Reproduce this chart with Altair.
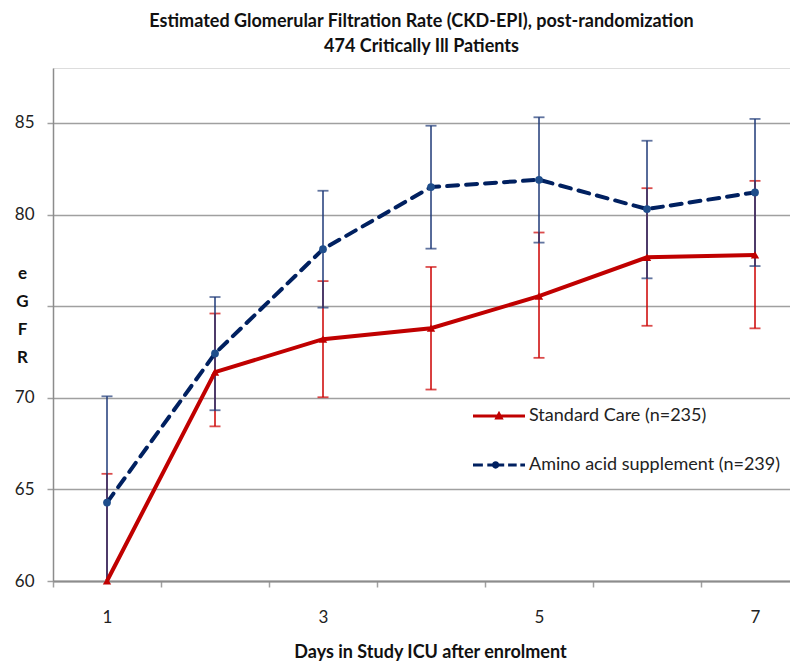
import altair as alt
import pandas as pd

# ---- data ----
days = [1, 2, 3, 4, 5, 6, 7]
series_names = ["Standard Care (n=235)", "Amino acid supplement (n=239)"]

sc_mean = [60.0, 71.4, 73.2, 73.8, 75.55, 77.67, 77.8]
sc_hi = [65.85, 74.6, 76.37, 77.14, 79.02, 81.44, 81.84]
sc_lo = [54.15, 68.44, 70.03, 70.45, 72.18, 73.93, 73.79]

aa_mean = [64.28, 72.42, 78.11, 81.5, 81.9, 80.3, 81.21]
aa_hi = [70.08, 75.5, 81.3, 84.85, 85.31, 84.03, 85.22]
aa_lo = [58.48, 69.32, 74.92, 78.14, 78.47, 76.52, 77.19]

y_ticks = [60, 65, 70, 75, 80, 85]
x_tick_values = [0.5, 1, 1.5, 2, 2.5, 3, 3.5, 4, 4.5, 5, 5.5, 6, 6.5, 7]

rows = []
for i, d in enumerate(days):
    rows.append(dict(day=d, series=series_names[0], mean=sc_mean[i], lo=sc_lo[i], hi=sc_hi[i]))
    rows.append(dict(day=d, series=series_names[1], mean=aa_mean[i], lo=aa_lo[i], hi=aa_hi[i]))
df = pd.DataFrame(rows)

RED = "#C00000"
RED_BAR = "#CC0000"
NAVY = "#002060"
BLUE_MARK = "#1F4E8C"
BLUE_BAR = "#1F3A78"
GRID = "#A0A0A0"
FONT = "Lato"

x_axis = alt.Axis(
    values=x_tick_values,
    labelExpr="datum.value % 2 == 1 ? '' + datum.value : ''",
    labelOverlap=False,
    labelFlush=False,
    tickOpacity={"condition": {"test": "datum.value % 1 == 0.5", "value": 1}, "value": 0},
    tickSize=6,
    tickColor=GRID,
    tickWidth=1.5,
    grid=False,
    domainColor="#8C8C8C",
    domainWidth=2,
    labelFont=FONT,
    labelFontSize=17,
    labelColor="#222222",
    labelPadding=22,
    title="Days in Study ICU after enrolment",
    titleFont=FONT,
    titleFontSize=18,
    titleFontWeight="bold",
    titleColor="#111111",
    titleX=377,
    titleY=71,
    titleBaseline="middle",
    titleAnchor="start",
    titleAlign="center",
)

y_axis = alt.Axis(
    values=y_ticks,
    labelExpr="datum.value == 75 ? '' : datum.label",
    grid=True,
    gridColor=GRID,
    gridWidth=1.5,
    tickColor=GRID,
    tickSize=6,
    tickWidth=1.5,
    domainColor="#8C8C8C",
    domainWidth=1.5,
    labelFont=FONT,
    labelFontSize=17,
    labelColor="#222222",
    labelPadding=13,
    title=["e", "G", "F", "R"],
    titleFont=FONT,
    titleFontSize=17,
    titleFontWeight="bold",
    titleColor="#111111",
    titleAngle=0,
    titleAlign="center",
    titleBaseline="alphabetic",
    titleLineHeight=28,
    titleX=-31,
    titleY=210,
)

xscale = alt.Scale(domain=[0.5, 7.324], nice=False, zero=False)
yscale = alt.Scale(domain=[60, 88], nice=False, zero=False)

X = alt.X("day:Q", scale=xscale, axis=x_axis)


def Y(field):
    return alt.Y(field, type="quantitative", scale=yscale, axis=y_axis)


base = alt.Chart(df)
sc = base.transform_filter(alt.datum.series == series_names[0])
aa = base.transform_filter(alt.datum.series == series_names[1])


def errorbars(src, color):
    rule = src.mark_rule(color=color, strokeWidth=1.5, clip=True).encode(
        x=X, y=Y("lo"), y2="hi:Q"
    )
    cap_hi = src.mark_tick(orient="horizontal", size=11, thickness=1.8, color=color, clip=True).encode(
        x=X, y=Y("hi")
    )
    cap_lo = src.mark_tick(orient="horizontal", size=11, thickness=1.8, color=color, clip=True).encode(
        x=X, y=Y("lo")
    )
    return [rule, cap_hi, cap_lo]


aa_line = aa.mark_line(color=NAVY, strokeWidth=4, strokeDash=[11, 8], strokeCap="round").encode(
    x=X, y=Y("mean")
)
sc_line = sc.mark_line(color=RED, strokeWidth=4).encode(x=X, y=Y("mean"))
aa_pts = aa.mark_point(filled=True, color=BLUE_MARK, size=60, opacity=1, shape="circle").encode(
    x=X, y=Y("mean")
)
sc_pts = sc.mark_point(filled=True, color=RED, size=70, opacity=1, shape="triangle-up").encode(
    x=X, y=Y("mean")
)

path_sc = "M-1,-0.06H1V0.06H-1Z M-0.18,0.13L0,-0.2L0.18,0.13Z"
path_aa = (
    "M-1,-0.06H-0.62V0.06H-1Z "
    "M-0.45,-0.06H0.2V0.06H-0.45Z "
    "M0.35,-0.06H0.68V0.06H0.35Z "
    "M0.82,-0.06H1V0.06H0.82Z "
    "M-0.27,0 A0.14,0.14 0 1,1 0.01,0 A0.14,0.14 0 1,1 -0.27,0 Z"
)

leg = alt.Legend(
    orient="none",
    legendX=420,
    legendY=322,
    title=None,
    symbolSize=2704,
    symbolStrokeWidth=0,
    symbolOpacity=1,
    labelFont=FONT,
    labelFontSize=18,
    labelColor="#222222",
    labelLimit=0,
    labelOffset=4,
    rowPadding=14,
    padding=0,
)

legend_layer = base.transform_filter("false").mark_point(filled=True, opacity=1).encode(
    x=X,
    y=Y("mean"),
    color=alt.Color("series:N", scale=alt.Scale(domain=series_names, range=[RED, NAVY]), legend=leg),
    shape=alt.Shape("series:N", scale=alt.Scale(domain=series_names, range=[path_sc, path_aa]), legend=leg),
)

layers = errorbars(sc, RED_BAR) + errorbars(aa, BLUE_BAR) + [aa_line, sc_line, aa_pts, sc_pts, legend_layer]

chart = alt.layer(*layers).properties(
    width=737,
    height=513,
    padding={"left": 45, "top": 60, "right": 0, "bottom": 80},
    autosize=alt.AutoSizeParams(type="none"),
    title=alt.TitleParams(
        ["Estimated Glomerular Filtration Rate (CKD-EPI), post-randomization", "474 Critically Ill Patients"],
        font=FONT,
        fontSize=18,
        fontWeight="bold",
        lineHeight=25,
        anchor="middle",
        color="#111111",
        offset=12,
    ),
).configure_view(stroke=None).configure(background="white")

chart.save("out.html", embed_options={"renderer": "svg", "actions": False})
